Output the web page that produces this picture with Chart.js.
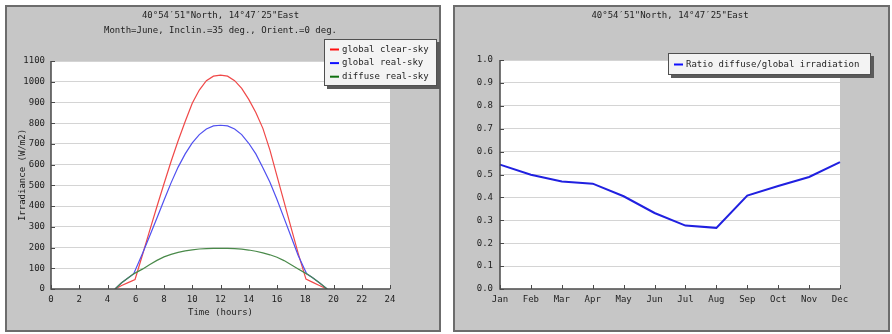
<!DOCTYPE html>
<html>
<head>
<meta charset="utf-8">
<script src="https://cdn.jsdelivr.net/npm/chart.js@4/dist/chart.umd.min.js"></script>
<style>
  html, body { margin: 0; padding: 0; background: #ffffff; }
  body { width: 892px; height: 334px; position: relative; overflow: hidden; }
  canvas { position: absolute; }
  #daily { left: 5px; top: 5px; }
  #monthly { left: 453px; top: 5px; }
</style>
</head>
<body>
<canvas id="daily" width="436" height="327"></canvas>
<canvas id="monthly" width="437" height="327"></canvas>
<script>
// ---- shared text ----
const LOCATION = '40°54′51"North, 14°47′25"East';
const DAILY_SUBTITLE = 'Month=June, Inclin.=35 deg., Orient.=0 deg.';

// ---- daily irradiance profile (W/m2 against hour of day) ----
const CLEAR_HOURS = [4.53, 5.0, 5.5, 5.95, 6.5, 7.0, 7.5, 8.0, 8.5, 9.0, 9.5, 10.0, 10.5, 11.0, 11.5, 12.0,
                     12.5, 13.0, 13.5, 14.0, 14.5, 15.0, 15.5, 16.0, 16.5, 17.0, 17.5, 18.05, 18.5, 19.0, 19.55];
const CLEAR_SKY   = [0, 17, 32, 46, 170, 285, 398, 508, 615, 715, 808, 896, 960, 1005, 1027, 1032,
                     1027, 1005, 968, 915, 852, 775, 670, 545, 420, 295, 172, 48, 33, 17, 0];

const REAL_HOURS  = [4.53, 5.0, 5.5, 5.85, 6.5, 7.0, 7.5, 8.0, 8.5, 9.0, 9.5, 10.0, 10.5, 11.0, 11.5, 12.0,
                     12.5, 13.0, 13.5, 14.0, 14.5, 15.0, 15.5, 16.0, 16.5, 17.0, 17.5, 18.1, 18.5, 19.0, 19.55];
const GLOBAL_REAL = [0, 30, 55, 73, 175, 258, 343, 428, 512, 588, 652, 705, 745, 772, 787, 790,
                     787, 772, 745, 703, 652, 585, 515, 432, 342, 252, 162, 73, 55, 30, 0];
const DIFFUSE_REAL = [0, 30, 55, 73, 97, 118, 138, 155, 167, 177, 184, 189, 193, 195, 196, 196,
                      196, 195, 192, 188, 182, 174, 165, 153, 137, 117, 97, 73, 55, 30, 0];

const DAILY_LABELS = ['global clear-sky', 'global real-sky', 'diffuse real-sky'];
const DAILY_LINE_COLORS = ['#f04848', '#5050f0', '#4a8a4a'];
const DAILY_KEY_COLORS = ['#ff1010', '#1010ff', '#107010'];
const IRRADIANCE_RANGE = [0, 1100, 100];   // min, max, step
const HOUR_RANGE = [0, 24, 2];

// ---- monthly ratio of diffuse to global irradiation ----
const MONTHS = ['Jan', 'Feb', 'Mar', 'Apr', 'May', 'Jun', 'Jul', 'Aug', 'Sep', 'Oct', 'Nov', 'Dec'];
const DIFFUSE_RATIO = [0.543, 0.499, 0.469, 0.460, 0.405, 0.332, 0.277, 0.267, 0.408, 0.450, 0.489, 0.554];
const RATIO_LABEL = 'Ratio diffuse/global irradiation';
const RATIO_RANGE = [0, 1, 0.1];

// ---- styling ----
const MONO = '"DejaVu Sans Mono", "Liberation Mono", monospace';
const FONT = { family: MONO, size: 9 };
const INK = '#1e1e1e';
const PANEL_BG = '#c6c6c6';
const GRID = '#d4d4d4';

const toPoints = (xs, ys) => xs.map((x, i) => ({ x, y: ys[i] }));

// Panel background, frame, axis lines, inward ticks, titles and boxed key.
const panelPlugin = {
  id: 'panel',
  beforeDraw(chart) {
    const { ctx, width, height, chartArea: a } = chart;
    ctx.save();
    ctx.fillStyle = PANEL_BG;
    ctx.fillRect(0, 0, width, height);
    ctx.fillStyle = '#ffffff';
    ctx.fillRect(a.left, a.top, a.right - a.left, a.bottom - a.top);
    ctx.restore();
  },
  afterDraw(chart, args, opts) {
    const { ctx, width, height, chartArea: a, scales } = chart;
    ctx.save();

    // outer frame
    ctx.strokeStyle = '#6c6c6c';
    ctx.lineWidth = 2;
    ctx.strokeRect(1, 1, width - 2, height - 2);

    // axis lines
    ctx.strokeStyle = '#4a4a4a';
    ctx.lineWidth = 1.5;
    ctx.beginPath();
    ctx.moveTo(a.left, a.top);
    ctx.lineTo(a.left, a.bottom);
    ctx.lineTo(a.right, a.bottom);
    ctx.stroke();

    // tick marks pointing into the plot
    ctx.lineWidth = 1;
    ctx.beginPath();
    scales.y.ticks.forEach((t, i) => {
      const p = Math.round(scales.y.getPixelForTick(i)) + 0.5;
      ctx.moveTo(a.left, p); ctx.lineTo(a.left + 4, p);
    });
    scales.x.ticks.forEach((t, i) => {
      const p = Math.round(scales.x.getPixelForTick(i)) + 0.5;
      ctx.moveTo(p, a.bottom); ctx.lineTo(p, a.bottom - 4);
    });
    ctx.stroke();

    // titles
    ctx.fillStyle = INK;
    ctx.font = `${FONT.size}px ${MONO}`;
    ctx.textAlign = 'center';
    ctx.textBaseline = 'middle';
    const cx = (a.left + a.right) / 2;
    opts.title.forEach((line, i) => ctx.fillText(line, cx, opts.titleY + i * 15));

    // key box with drop shadow
    const k = opts.key;
    ctx.fillStyle = '#5a5a5a';
    ctx.fillRect(k.x + 3, k.y + 3, k.w, k.h);
    ctx.fillStyle = '#f3f3f3';
    ctx.fillRect(k.x, k.y, k.w, k.h);
    ctx.strokeStyle = '#505050';
    ctx.lineWidth = 1;
    ctx.strokeRect(k.x + 0.5, k.y + 0.5, k.w - 1, k.h - 1);
    ctx.textAlign = 'left';
    chart.data.datasets.forEach((ds, i) => {
      const y = k.y + k.firstRow + i * k.rowGap;
      ctx.strokeStyle = opts.keyColors[i];
      ctx.lineWidth = 2;
      ctx.beginPath();
      ctx.moveTo(k.x + 6, y); ctx.lineTo(k.x + 15, y);
      ctx.stroke();
      ctx.fillStyle = INK;
      ctx.fillText(ds.label, k.x + 18, y);
    });
    ctx.restore();
  }
};

const fixedWidth = w => scale => { scale.width = w; };
const fixedHeight = h => scale => { scale.height = h; };

// ---- daily chart ----
new Chart(document.getElementById('daily'), {
  type: 'line',
  data: {
    datasets: [
      { label: DAILY_LABELS[0], data: toPoints(CLEAR_HOURS, CLEAR_SKY), borderColor: DAILY_LINE_COLORS[0], order: 2 },
      { label: DAILY_LABELS[1], data: toPoints(REAL_HOURS, GLOBAL_REAL), borderColor: DAILY_LINE_COLORS[1], order: 1 },
      { label: DAILY_LABELS[2], data: toPoints(REAL_HOURS, DIFFUSE_REAL), borderColor: DAILY_LINE_COLORS[2], order: 0 }
    ]
  },
  options: {
    responsive: false,
    animation: false,
    events: [],
    layout: { padding: { left: 6, right: 51, top: 56, bottom: 0 } },
    elements: { point: { radius: 0 }, line: { borderWidth: 1.2, tension: 0, fill: false } },
    plugins: {
      legend: { display: false },
      tooltip: { enabled: false },
      panel: {
        title: [LOCATION, DAILY_SUBTITLE],
        titleY: 11,
        keyColors: DAILY_KEY_COLORS,
        key: { x: 319, y: 34, w: 113, h: 47, firstRow: 10.5, rowGap: 13.6 }
      }
    },
    scales: {
      x: {
        type: 'linear',
        min: HOUR_RANGE[0], max: HOUR_RANGE[1],
        afterFit: fixedHeight(43),
        grid: { display: false, drawTicks: false },
        border: { display: false },
        ticks: { stepSize: HOUR_RANGE[2], padding: 5, color: INK, font: FONT, maxRotation: 0, autoSkip: false,
                 callback: v => String(v) },
        title: { display: true, text: 'Time (hours)', color: INK, font: FONT, padding: { top: 0, bottom: 14 } }
      },
      y: {
        min: IRRADIANCE_RANGE[0], max: IRRADIANCE_RANGE[1],
        afterFit: fixedWidth(40),
        grid: { color: GRID, lineWidth: 1, drawTicks: false },
        border: { display: false },
        ticks: { stepSize: IRRADIANCE_RANGE[2], padding: 6, color: INK, font: FONT, callback: v => String(v) },
        title: { display: true, text: 'Irradiance (W/m2)', color: INK, font: FONT, padding: { top: 6, bottom: 0 } }
      }
    }
  },
  plugins: [panelPlugin]
});

// ---- monthly ratio chart ----
new Chart(document.getElementById('monthly'), {
  type: 'line',
  data: {
    labels: MONTHS,
    datasets: [
      { label: RATIO_LABEL, data: DIFFUSE_RATIO, borderColor: '#2020e0', borderWidth: 2 }
    ]
  },
  options: {
    responsive: false,
    animation: false,
    events: [],
    layout: { padding: { left: 7, right: 50, top: 55, bottom: 0 } },
    elements: { point: { radius: 0 }, line: { tension: 0, fill: false } },
    plugins: {
      legend: { display: false },
      tooltip: { enabled: false },
      panel: {
        title: [LOCATION],
        titleY: 11,
        keyColors: ['#1010ff'],
        key: { x: 215, y: 48, w: 203, h: 22, firstRow: 11.5, rowGap: 0 }
      }
    },
    scales: {
      x: {
        type: 'category',
        offset: false,
        afterFit: fixedHeight(43),
        grid: { display: false, drawTicks: false },
        border: { display: false },
        ticks: { padding: 5, color: INK, font: FONT, maxRotation: 0, autoSkip: false }
      },
      y: {
        min: RATIO_RANGE[0], max: RATIO_RANGE[1],
        afterFit: fixedWidth(40),
        grid: { color: GRID, lineWidth: 1, drawTicks: false },
        border: { display: false },
        ticks: { stepSize: RATIO_RANGE[2], padding: 7, color: INK, font: FONT, callback: v => Number(v).toFixed(1) }
      }
    }
  },
  plugins: [panelPlugin]
});
</script>
</body>
</html>
